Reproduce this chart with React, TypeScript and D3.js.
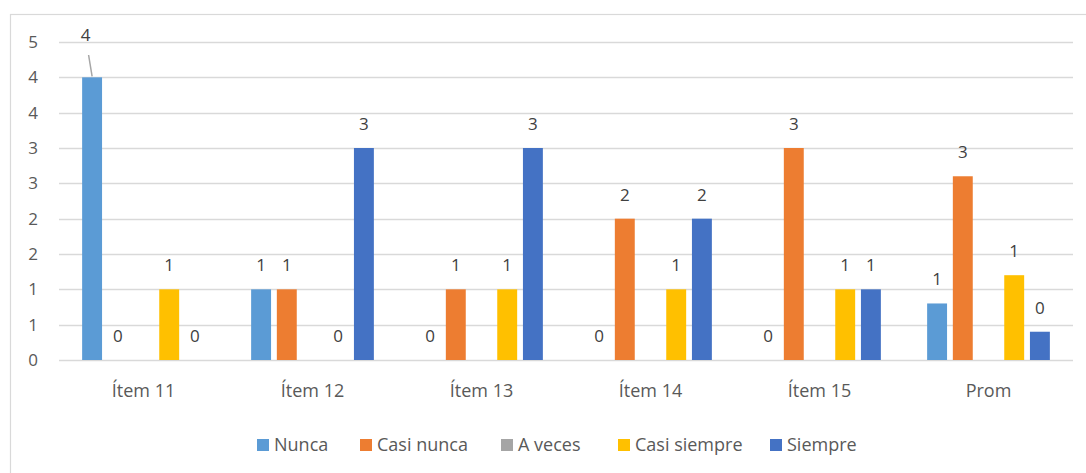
import React, { useEffect, useRef } from 'react';
import * as d3 from 'd3';

const categories = ['Ítem 11', 'Ítem 12', 'Ítem 13', 'Ítem 14', 'Ítem 15', 'Prom'];
const seriesNames = ['Nunca', 'Casi nunca', 'A veces', 'Casi siempre', 'Siempre'];
const seriesColors = ['#5B9BD5', '#ED7D31', '#A5A5A5', '#FFC000', '#4472C4'];

const nunca = [4, 1, 0, 0, 0, 0.8];
const casiNunca = [0, 1, 1, 2, 3, 2.6];
const aVeces = [0, 0, 0, 0, 0, 0];
const casiSiempre = [1, 0, 1, 1, 1, 1.2];
const siempre = [0, 3, 3, 2, 1, 0.4];

const seriesValues = [nunca, casiNunca, aVeces, casiSiempre, siempre];
// A veces has no data labels in the original
const showLabels = [true, true, false, true, true];

const yTicks = [0, 0.5, 1, 1.5, 2, 2.5, 3, 3.5, 4, 4.5];

const W = 1086;
const H = 473;

export default function App() {
  const ref = useRef<SVGSVGElement>(null);

  useEffect(() => {
    const svg = d3.select(ref.current);
    svg.selectAll('*').remove();

    const left = 59;
    const right = 1073;
    const top = 42;
    const bottom = 360;
    const font = "'Open Sans', 'Liberation Sans', Arial, sans-serif";
    const textColor = '#595959';
    const labelColor = '#404040';

    // chart frame
    svg.append('rect')
      .attr('x', 10.5).attr('y', 14.5)
      .attr('width', W + 20).attr('height', H + 20)
      .attr('fill', '#fff')
      .attr('stroke', '#D9D9D9')
      .attr('stroke-width', 1.2);

    const x0 = d3.scaleBand<string>().domain(categories).range([left, right]).padding(0);
    const x1 = d3.scaleBand<string>().domain(seriesNames)
      .range([0, x0.bandwidth()])
      .paddingInner(0.225)
      .paddingOuter(0.9);
    const y = d3.scaleLinear().domain([0, 4.5]).range([bottom, top]);

    // gridlines
    svg.append('g').selectAll('line')
      .data(yTicks)
      .enter()
      .append('line')
      .attr('x1', left).attr('x2', right)
      .attr('y1', d => Math.round(y(d)) + 0.5)
      .attr('y2', d => Math.round(y(d)) + 0.5)
      .attr('stroke', '#D9D9D9')
      .attr('stroke-width', 1.6);

    // y tick labels (Excel rounds to 0 decimals)
    svg.append('g').selectAll('text')
      .data(yTicks)
      .enter()
      .append('text')
      .attr('x', 38)
      .attr('y', d => y(d) + 6)
      .attr('text-anchor', 'end')
      .attr('font-family', font)
      .attr('font-size', '17px')
      .attr('fill', textColor)
      .text(d => String(Math.round(d + 1e-9)));

    // x labels
    svg.append('g').selectAll('text')
      .data(categories)
      .enter()
      .append('text')
      .attr('x', d => (x0(d) as number) + x0.bandwidth() / 2)
      .attr('y', 397)
      .attr('text-anchor', 'middle')
      .attr('font-family', font)
      .attr('font-size', '18px')
      .attr('fill', textColor)
      .text(d => d);

    // bars
    seriesNames.forEach((s, si) => {
      const g = svg.append('g');
      g.selectAll('rect')
        .data(seriesValues[si])
        .enter()
        .append('rect')
        .attr('x', (_, i) => (x0(categories[i]) as number) + (x1(s) as number))
        .attr('y', d => y(d))
        .attr('width', x1.bandwidth())
        .attr('height', d => bottom - y(d))
        .attr('fill', seriesColors[si]);

      if (!showLabels[si]) return;
      seriesValues[si].forEach((v, i) => {
        const cx = (x0(categories[i]) as number) + (x1(s) as number) + x1.bandwidth() / 2;
        let ly = y(v) - 18;
        let lx = cx;
        if (ly - 14 < top + 10) {
          // label pushed above the plot, with a leader line
          ly = 41;
          lx = cx - 6.5;
          g.append('line')
            .attr('x1', lx + 3).attr('y1', 55)
            .attr('x2', cx).attr('y2', y(v) - 1)
            .attr('stroke', '#A6A6A6')
            .attr('stroke-width', 1.5);
        }
        g.append('text')
          .attr('x', lx).attr('y', ly)
          .attr('text-anchor', 'middle')
          .attr('font-family', font)
          .attr('font-size', '17px')
          .attr('fill', labelColor)
          .text(String(Math.round(v)));
      });
    });

    // legend
    const legendX = [257, 360, 501, 618, 770];
    const legend = svg.append('g');
    seriesNames.forEach((s, si) => {
      legend.append('rect')
        .attr('x', legendX[si]).attr('y', 439)
        .attr('width', 12).attr('height', 12)
        .attr('fill', seriesColors[si]);
      legend.append('text')
        .attr('x', legendX[si] + 17).attr('y', 451)
        .attr('font-family', font)
        .attr('font-size', '18px')
        .attr('fill', textColor)
        .text(s);
    });
  }, []);

  return (
    <svg
      ref={ref}
      width={W}
      height={H}
      viewBox={`0 0 ${W} ${H}`}
      style={{ position: 'absolute', left: 0, top: 0, background: '#fff' }}
    />
  );
}
